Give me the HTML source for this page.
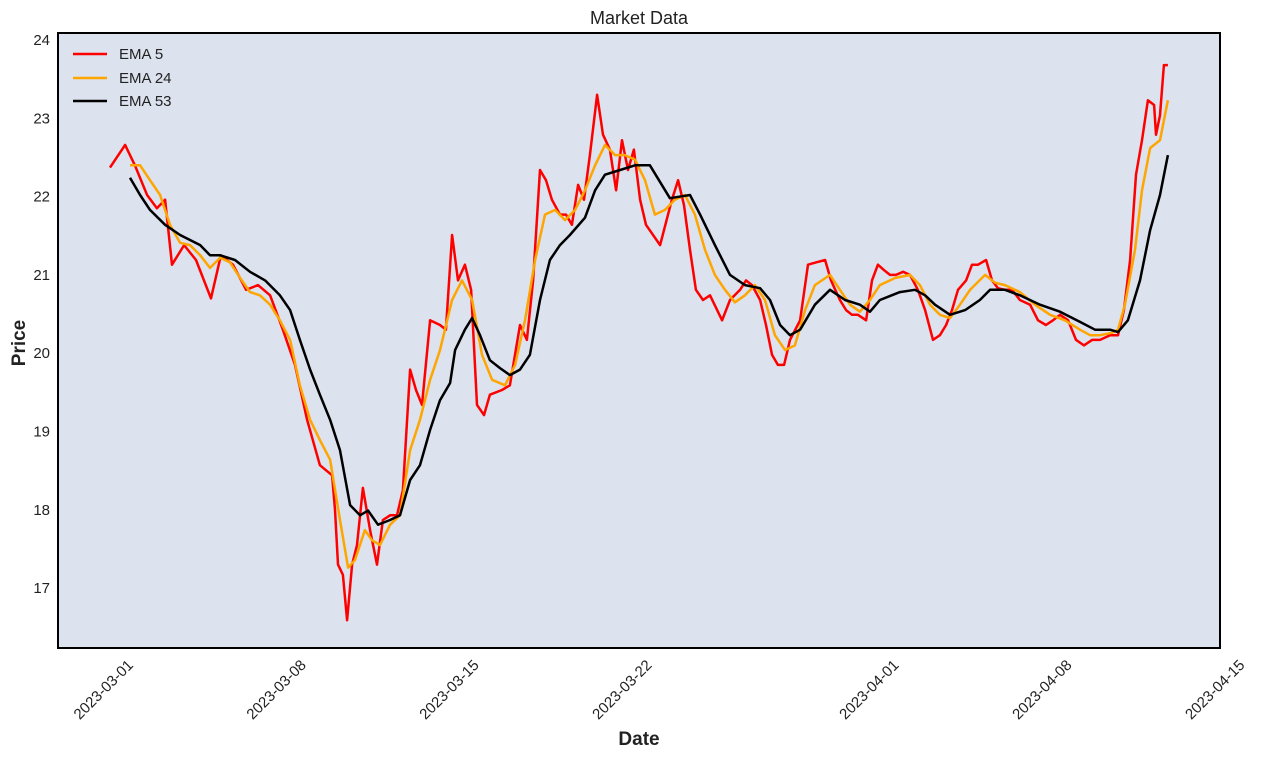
<!DOCTYPE html>
<html><head><meta charset="utf-8"><style>
body{margin:0;background:#fff;font-family:"Liberation Sans",sans-serif}
svg text{font-family:"Liberation Sans",sans-serif;fill:#222}
</style></head><body>
<svg id="chart" width="1262" height="759">
<rect x="58" y="33" width="1162" height="615" fill="#dce2ee"/>
<g id="grid"></g>
<g id="series"></g>
<rect x="58" y="33" width="1162" height="615" fill="none" stroke="#000" stroke-width="2"/>
<text x="639" y="24" text-anchor="middle" font-size="18">Market Data</text>
<text x="639" y="745" text-anchor="middle" font-size="19" font-weight="bold">Date</text>
<text transform="translate(25,343) rotate(-90)" text-anchor="middle" font-size="19" font-weight="bold">Price</text>
<g id="axes"></g>
<g>
<g><line x1="73" y1="54" x2="107" y2="54" stroke="#ff0000" stroke-width="2.5"/><text x="119" y="59" font-size="15">EMA 5</text></g>
<g><line x1="73" y1="78" x2="107" y2="78" stroke="#ffa500" stroke-width="2.5"/><text x="119" y="83" font-size="15">EMA 24</text></g>
<g><line x1="73" y1="101" x2="107" y2="101" stroke="#000" stroke-width="2.5"/><text x="119" y="106" font-size="15">EMA 53</text></g>
</g>
</svg>
<script>
const yTicks=[17,18,19,20,21,22,23,24];
const xTickDays=[0,7,14,21,31,38,45];
const xTickLabels=["2023-03-01","2023-03-08","2023-03-15","2023-03-22","2023-04-01","2023-04-08","2023-04-15"];
const ema5Days=[0,0.61,1.01,1.50,1.90,2.23,2.51,3.00,3.48,4.09,4.49,4.98,5.51,5.99,6.48,7.00,7.49,7.98,8.50,8.99,9.11,9.23,9.43,9.60,9.80,10.00,10.24,10.53,10.81,11.05,11.34,11.62,11.86,12.15,12.39,12.63,12.96,13.36,13.60,13.85,14.09,14.37,14.62,14.86,15.14,15.38,15.87,16.19,16.60,16.88,17.13,17.41,17.65,17.89,18.22,18.46,18.70,18.95,19.19,19.43,19.72,19.96,20.24,20.49,20.73,20.97,21.21,21.46,21.70,22.27,22.75,23.00,23.24,23.48,23.72,24.01,24.29,24.78,25.10,25.51,25.75,25.99,26.32,26.56,26.80,27.04,27.29,27.53,27.94,28.26,28.58,28.95,29.19,29.55,29.80,30.04,30.28,30.61,30.85,31.09,31.34,31.58,31.82,32.11,32.39,32.71,33.00,33.32,33.60,33.85,34.09,34.33,34.66,34.90,35.14,35.47,35.71,35.95,36.23,36.52,36.84,37.25,37.57,37.89,38.18,38.46,38.79,39.11,39.43,39.76,40.08,40.49,40.81,41.05,41.30,41.54,41.78,42.02,42.27,42.35,42.51,42.67,42.83];
const ema5Values=[22.37,22.66,22.40,22.02,21.85,21.96,21.13,21.38,21.19,20.70,21.25,21.13,20.81,20.87,20.74,20.30,19.85,19.15,18.57,18.44,18.00,17.30,17.17,16.59,17.30,17.55,18.28,17.74,17.30,17.87,17.93,17.93,18.25,19.79,19.53,19.34,20.42,20.36,20.30,21.51,20.93,21.13,20.81,19.34,19.21,19.47,19.53,19.59,20.36,20.17,20.93,22.34,22.21,21.96,21.77,21.77,21.64,22.15,21.96,22.53,23.30,22.79,22.60,22.08,22.72,22.34,22.60,21.96,21.64,21.38,21.96,22.21,21.89,21.32,20.81,20.68,20.74,20.42,20.68,20.81,20.93,20.87,20.68,20.36,19.98,19.85,19.85,20.17,20.42,21.13,21.16,21.19,20.93,20.68,20.55,20.49,20.49,20.42,20.93,21.13,21.06,21.00,21.00,21.04,21.00,20.81,20.55,20.17,20.23,20.36,20.55,20.81,20.93,21.13,21.13,21.19,20.93,20.83,20.81,20.81,20.68,20.62,20.42,20.36,20.42,20.49,20.42,20.17,20.10,20.17,20.17,20.23,20.23,20.55,21.19,22.28,22.72,23.23,23.17,22.79,23.04,23.68,23.68];
const ema24Days=[0.81,1.22,1.62,2.03,2.43,2.84,3.24,3.65,4.05,4.46,4.86,5.27,5.67,6.07,6.48,6.88,7.29,7.69,8.10,8.50,8.91,9.31,9.64,9.92,10.32,10.61,10.93,11.34,11.74,12.15,12.55,12.96,13.36,13.85,14.25,14.66,15.06,15.47,15.99,16.40,16.80,17.21,17.61,18.02,18.42,18.83,19.23,19.64,20.04,20.45,20.85,21.26,21.66,22.06,22.47,22.87,23.28,23.68,24.09,24.49,24.90,25.30,25.71,26.11,26.52,26.92,27.33,27.73,28.14,28.54,29.15,29.55,29.96,30.36,30.77,31.17,31.78,32.39,32.79,33.20,33.60,34.01,34.41,34.82,35.43,35.83,36.23,36.84,37.45,38.06,38.66,39.27,39.68,40.08,40.57,40.81,41.09,41.50,41.78,42.11,42.51,42.83];
const ema24Values=[22.40,22.40,22.21,22.02,21.64,21.41,21.38,21.25,21.09,21.22,21.16,20.96,20.78,20.74,20.62,20.42,20.17,19.59,19.15,18.89,18.64,17.87,17.26,17.36,17.74,17.61,17.55,17.81,17.93,18.76,19.15,19.66,20.04,20.68,20.93,20.68,19.98,19.66,19.59,19.85,20.42,21.19,21.77,21.83,21.70,21.83,22.08,22.40,22.66,22.53,22.53,22.47,22.21,21.77,21.83,21.96,22.02,21.77,21.32,21.00,20.81,20.65,20.74,20.87,20.68,20.23,20.04,20.10,20.55,20.87,21.00,20.81,20.62,20.53,20.68,20.87,20.96,21.00,20.87,20.62,20.49,20.45,20.62,20.81,21.00,20.90,20.87,20.78,20.62,20.49,20.42,20.30,20.23,20.23,20.26,20.30,20.62,21.32,22.08,22.62,22.72,23.23];
const ema53Days=[0.81,1.22,1.62,2.23,2.84,3.65,4.05,4.46,5.06,5.67,6.28,6.88,7.29,7.69,8.10,8.50,8.91,9.31,9.72,10.12,10.45,10.85,11.34,11.74,12.15,12.55,12.96,13.36,13.77,13.97,14.37,14.66,14.98,15.38,15.79,16.19,16.60,17.00,17.41,17.81,18.22,18.62,19.23,19.64,20.04,20.65,21.26,21.86,22.67,23.48,23.89,24.49,25.10,25.71,26.32,26.72,27.13,27.53,27.94,28.54,29.15,29.76,30.36,30.77,31.17,31.98,32.59,33.00,33.40,34.01,34.62,35.22,35.63,36.23,36.84,37.65,38.46,39.27,39.88,40.49,40.81,41.21,41.70,42.11,42.51,42.83];
const ema53Values=[22.24,22.02,21.83,21.64,21.51,21.38,21.25,21.25,21.19,21.04,20.93,20.74,20.55,20.17,19.79,19.47,19.15,18.76,18.06,17.93,17.99,17.81,17.87,17.93,18.38,18.57,19.02,19.40,19.62,20.04,20.30,20.45,20.23,19.91,19.81,19.72,19.79,19.98,20.68,21.19,21.38,21.51,21.73,22.08,22.28,22.34,22.40,22.40,21.98,22.02,21.77,21.38,21.00,20.87,20.83,20.68,20.36,20.23,20.30,20.62,20.81,20.68,20.62,20.53,20.68,20.78,20.81,20.74,20.62,20.49,20.55,20.68,20.81,20.81,20.74,20.62,20.53,20.40,20.30,20.30,20.27,20.42,20.93,21.57,22.02,22.53];
const X=d=>110+d*24.7, Y=p=>40+(24-p)*78.3;
const NS="http://www.w3.org/2000/svg";
const axes=document.getElementById('axes');
yTicks.forEach(v=>{
  const t=document.createElementNS(NS,'text');
  
  
  t.setAttribute('x',50);t.setAttribute('y',Y(v)+5);t.setAttribute('text-anchor','end');t.setAttribute('font-size','15');
  t.textContent=v;axes.appendChild(t);
});
xTickDays.forEach((d,i)=>{
  const t=document.createElementNS(NS,'text');
  
  
  const x=X(d)+24,y=666;
  t.setAttribute('x',x);t.setAttribute('y',y);t.setAttribute('text-anchor','end');t.setAttribute('font-size','15');
  t.setAttribute('transform',`rotate(-45 ${x} ${y})`);
  t.textContent=xTickLabels[i];axes.appendChild(t);
});
const series=document.getElementById('series');
function draw(days,vals,color,name){
  const p=document.createElementNS(NS,'path');
  
  
  p.setAttribute('d',days.map((d,i)=>(i?'L':'M')+X(d).toFixed(1)+' '+Y(vals[i]).toFixed(1)).join(''));
  p.setAttribute('fill','none');p.setAttribute('stroke',color);p.setAttribute('stroke-width','2.5');p.setAttribute('stroke-linejoin','round');
  series.appendChild(p);
}
draw(ema5Days,ema5Values,'#ff0000','ema5-line');
draw(ema24Days,ema24Values,'#ffa500','ema24-line');
draw(ema53Days,ema53Values,'#000000','ema53-line');
</script>
</body></html>
